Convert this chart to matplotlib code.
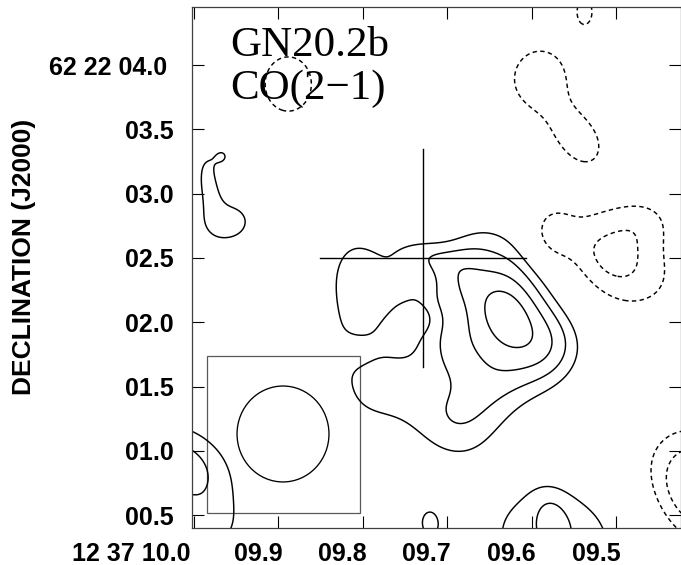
import numpy as np
import matplotlib
matplotlib.use('Agg')
import matplotlib.pyplot as plt
import matplotlib.transforms as mtransforms
from matplotlib.patches import Rectangle, Ellipse

# ---------------- data ----------------
# CO(2-1) map modelled as Gaussian components.
# RA in seconds of 12h37m, Dec in arcsec of +62d22m, sizes in arcsec, angle in degrees
comp_ra = [9.6298, 9.6932, 9.7931, 9.7536, 9.6692, 9.7626, 9.5729, 9.7271, 9.6339, 9.9605,
           9.9825, 9.9661, 10.0166, 9.9835, 9.7206, 9.5701, 9.5773, 9.5908, 9.5429, 9.5369,
           9.5078, 9.5789, 9.4632, 9.4023, 9.8879, 9.7009, 9.7796, 9.7974, 9.8033, 9.7330,
           9.7521]
comp_dec = [2.086, 2.349, 2.270, 1.438, 1.304, 1.901, 1.799, 2.525, 2.079, 2.777,
            3.088, 3.290, 0.890, 0.339, 0.436, 0.322, 0.542, 3.903, 3.417, 4.421,
            2.487, 2.680, 2.817, 0.709, 3.852, 1.802, 2.410, 1.422, 1.769, 2.026,
            2.328]
comp_amp = [4.87, 1.89, 2.99, 2.14, 1.50, -1.19, 2.05, 1.65, 0.81, 2.67,
            2.64, 2.07, 3.52, 1.75, 2.26, 2.95, 0.80, -2.70, -2.62, -2.49,
            -3.32, -2.15, -1.33, -4.31, -2.80, 1.36, -0.41, 0.77, -1.03, -0.89,
            0.50]
comp_smaj = [0.463, 0.162, 0.254, 0.483, 0.209, 0.142, 0.213, 0.177, 0.160, 0.186,
             0.168, 0.066, 0.374, 0.260, 0.076, 0.474, 0.106, 0.245, 0.215, 0.074,
             0.446, 0.126, 0.209, 0.313, 0.219, 0.195, 0.158, 0.163, 0.121, 0.102,
             0.100]
comp_smin = [0.299, 0.271, 0.381, 0.238, 0.300, 0.153, 0.245, 0.108, 0.106, 0.151,
             0.062, 0.072, 0.261, 0.204, 0.110, 0.359, 0.146, 0.264, 0.156, 0.121,
             0.289, 0.159, 0.165, 0.381, 0.257, 0.223, 0.190, 0.184, 0.091, 0.083,
             0.070]
comp_angle = [87, -29, 17, -40, -39, 20, -14, -10, -51, 4,
              -81, -5, -28, 12, 4, -4, 16, -15, -50, 2,
              -27, 2, 1, 31, 0, -1, -6, -6, 4, -1,
              90]

pos_levels = [2, 3, 4, 5]
neg_levels = [-3, -2]

x_ticks = [10.0, 9.9, 9.8, 9.7, 9.6, 9.5]
x_ticklabels = ['12 37 10.0', '09.9', '09.8', '09.7', '09.6', '09.5']
y_ticks = [4.0, 3.5, 3.0, 2.5, 2.0, 1.5, 1.0, 0.5]
y_ticklabels = ['62 22 04.0', '03.5', '03.0', '02.5', '02.0', '01.5', '01.0', '00.5']

cross_ra, cross_dec = 9.7284, 2.50
cross_half_ra, cross_half_dec = 0.1215, 0.845
beam_ra, beam_dec = 9.8941, 1.131
beam_rad_ra, beam_rad_dec = 0.0544, 0.373
beam_box_ra = [9.9840, 9.8030]
beam_box_dec = [0.516, 1.737]

title_lines = ['GN20.2b', 'CO(2\u22121)']
ylabel = 'DECLINATION (J2000)'

ra_sec_to_arcsec = 845 / 128.6   # plotted scale of one RA second

# ---------------- field ----------------
RA, DEC = np.meshgrid(np.linspace(10.05, 9.38, 500), np.linspace(0.25, 4.6, 500))
X = (10 - RA) * ra_sec_to_arcsec
F = np.zeros_like(RA)
for ra, dec, amp, smj, smn, ang in zip(comp_ra, comp_dec, comp_amp, comp_smaj, comp_smin, comp_angle):
    dx = X - (10 - ra) * ra_sec_to_arcsec
    dy = DEC - dec
    c, s = np.cos(np.radians(ang)), np.sin(np.radians(ang))
    u = dx * c + dy * s
    v = -dx * s + dy * c
    F += amp * np.exp(-0.5 * (u * u / smj ** 2 + v * v / smn ** 2))

# ---------------- plot ----------------
plt.rcParams['font.family'] = ['Liberation Sans', 'DejaVu Sans']
fig = plt.figure(figsize=(6.81, 5.65), dpi=100)
ax = fig.add_axes([192 / 681, 37 / 565, 489 / 681, 521 / 565])

ax.contour(RA, DEC, F, levels=pos_levels, colors='k', linewidths=1.05, linestyles='solid')
ax.contour(RA, DEC, F, levels=neg_levels, colors='k', linewidths=1.05, linestyles=[(0, (3, 2.3))])

ax.plot([cross_ra, cross_ra], [cross_dec - cross_half_dec, cross_dec + cross_half_dec], 'k-', lw=1.0)
ax.plot([cross_ra + cross_half_ra, cross_ra - cross_half_ra], [cross_dec, cross_dec], 'k-', lw=1.0)

ax.add_patch(Rectangle((beam_box_ra[0], beam_box_dec[0]), beam_box_ra[1] - beam_box_ra[0],
                       beam_box_dec[1] - beam_box_dec[0], fill=False, ec='0.35', lw=0.9))
ax.add_patch(Ellipse((beam_ra, beam_dec), 2 * beam_rad_ra, 2 * beam_rad_dec, fill=False, ec='k', lw=0.95))

ax.set_xlim(10.0018, 9.4231)
ax.set_ylim(0.400, 4.451)
ax.set_xticks(x_ticks)
ax.set_xticklabels(x_ticklabels, ha='right')
ax.set_yticks(y_ticks)
ax.set_yticklabels(y_ticklabels)
ax.tick_params(direction='in', length=8.6, width=0.8, top=True, right=True, labelsize=18)
ax.tick_params(axis='y', pad=13)
ax.tick_params(axis='x', pad=10)
for sp in ax.spines.values():
    sp.set_linewidth(0.9)
    sp.set_color('0.25')
for t in ax.get_xticklabels() + ax.get_yticklabels():
    t.set_fontweight('bold')
xlabels = ax.get_xticklabels()
for i, t in enumerate(xlabels):
    dxp = -2.5 if i == 0 else 3
    t.set_transform(t.get_transform() + mtransforms.ScaledTranslation(dxp / 72, 0, fig.dpi_scale_trans))
ylabels = ax.get_yticklabels()
ylabels[0].set_transform(ylabels[0].get_transform() + mtransforms.ScaledTranslation(-5 / 72, 0, fig.dpi_scale_trans))

fig.text(24 / 681, 1 - 257 / 565, ylabel, rotation=90, ha='center', va='center', fontsize=19, fontweight='bold')
fig.text(230 / 681, 1 - 56 / 565, title_lines[0], fontsize=31, family='Liberation Serif', va='baseline')
fig.text(230 / 681, 1 - 99 / 565, title_lines[1], fontsize=31, family='Liberation Serif', va='baseline')

fig.savefig('out.png', dpi=100)
